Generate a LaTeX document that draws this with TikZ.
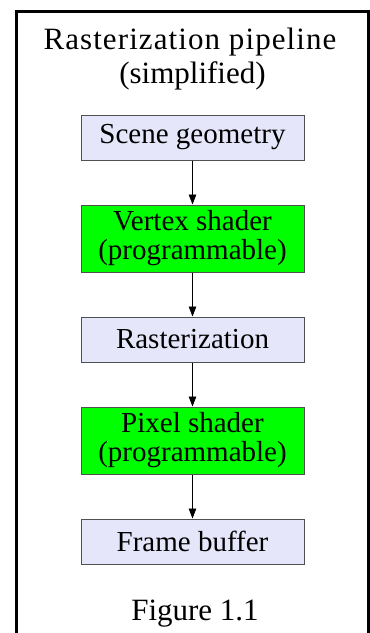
\documentclass[tikz,border=0pt]{standalone}
\usepackage{fontspec}
\setmainfont{Liberation Serif}
\usetikzlibrary{arrows.meta}
\definecolor{stagefill}{HTML}{E6E6FA}
\definecolor{shaderfill}{HTML}{00FF00}
\definecolor{stageedge}{HTML}{505050}
\tikzset{
  stagebox/.style={draw=stageedge, line width=1pt, fill=stagefill, minimum width=223pt,
    minimum height=45pt, inner sep=0pt, align=center,
    font=\fontsize{29}{30}\selectfont},
  shaderbox/.style={stagebox, fill=shaderfill, minimum height=67pt},
  flow/.style={line width=0.9pt, -{Triangle[length=10pt,width=7.5pt]}},
  label/.style={inner sep=0pt, anchor=base, font=\fontsize{31}{32}\selectfont}
}
\begin{document}
\begin{tikzpicture}[x=1pt,y=1pt]
  \useasboundingbox (0,0) rectangle (370,-633);
  % open frame around the figure
  \draw[line width=3pt] (16.5,-640) -- (16.5,-11.5) -- (368.5,-11.5) -- (368.5,-640);
  % heading and caption
  \node[label] (title1) at (190,-49) {\addfontfeature{LetterSpace=3.5}Rasterization pipeline};
  \node[label] (title2) at (192.5,-83) {(simplified)};
  \node[label] (caption) at (195,-620) {Figure 1.1};
  % pipeline stages
  \node[stagebox]  (scene)  at (192.5,-137.5) {Scene geometry};
  \node[shaderbox] (vertex) at (192.5,-238.5) {Vertex shader\\[-1pt](programmable)};
  \node[stagebox]  (raster) at (192.5,-339.5) {Rasterization};
  \node[shaderbox] (pixel)  at (192.5,-440.5) {Pixel shader\\[-1pt](programmable)};
  \node[stagebox]  (frame)  at (192.5,-541.5) {Frame buffer};
  % data flow
  \draw[flow] (scene) -- (vertex);
  \draw[flow] (vertex) -- (raster);
  \draw[flow] (raster) -- (pixel);
  \draw[flow] (pixel) -- (frame);
\end{tikzpicture}
\end{document}
